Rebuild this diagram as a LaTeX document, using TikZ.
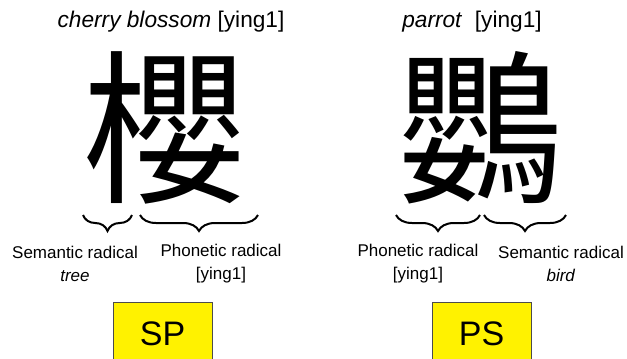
\documentclass[tikz,border=0pt]{standalone}
\usepackage{fontspec}
\setmainfont{Liberation Sans}
\newfontfamily\hanzi{Noto Sans CJK TC}
\usetikzlibrary{decorations.pathreplacing}

\begin{document}
\begin{tikzpicture} [x=0.75pt, y=-0.75pt, title/.style={font=\fontsize{17}{20}\selectfont}, glyph/.style={font=\hanzi\fontsize{124}{124}\selectfont, inner sep=0pt}, lbl/.style={align=center, font=\fontsize{12.75}{17.25}\selectfont}, brc/.style={decorate, decoration={brace, mirror, amplitude=12pt}, line width=1.5pt}, tag/.style={draw=black!70, fill=yellow, anchor=north, minimum width=74.25pt, inner sep=0pt, text height=32.25pt, text depth=22.5pt, font=\fontsize{25.5}{28}\selectfont}]
		\clip (0,0) rectangle (627,358);
		\node[title] (t1) at (171,22) {\textit{cherry blossom} [ying1]};
		\node[title] (t2) at (472,22) {\textit{parrot}\ \ [ying1]};
		\node[glyph] (c1) at (165,128) {櫻};
		\node[glyph] (c2) at (480,128) {鸚};
		\draw[brc] (83,215)--(132,215);
		\draw[brc] (140,215)--(258,215);
		\draw[brc] (396,215)--(480,215);
		\draw[brc] (484,215)--(566,215);
		\node[lbl] (s1) at (75,264) {Semantic radical\\\textit{tree}};
		\node[lbl] (p1) at (221,264) {Phonetic radical\\{}[ying1]};
		\node[lbl] (p2) at (418,264) {Phonetic radical\\{}[ying1]};
		\node[lbl] (s2) at (561,264) {Semantic radical\\\textit{bird}};
		\node[tag] (sp) at (162.5,302) {SP};
		\node[tag] (ps) at (481.5,302) {PS};
	\end{tikzpicture}
\end{document}
